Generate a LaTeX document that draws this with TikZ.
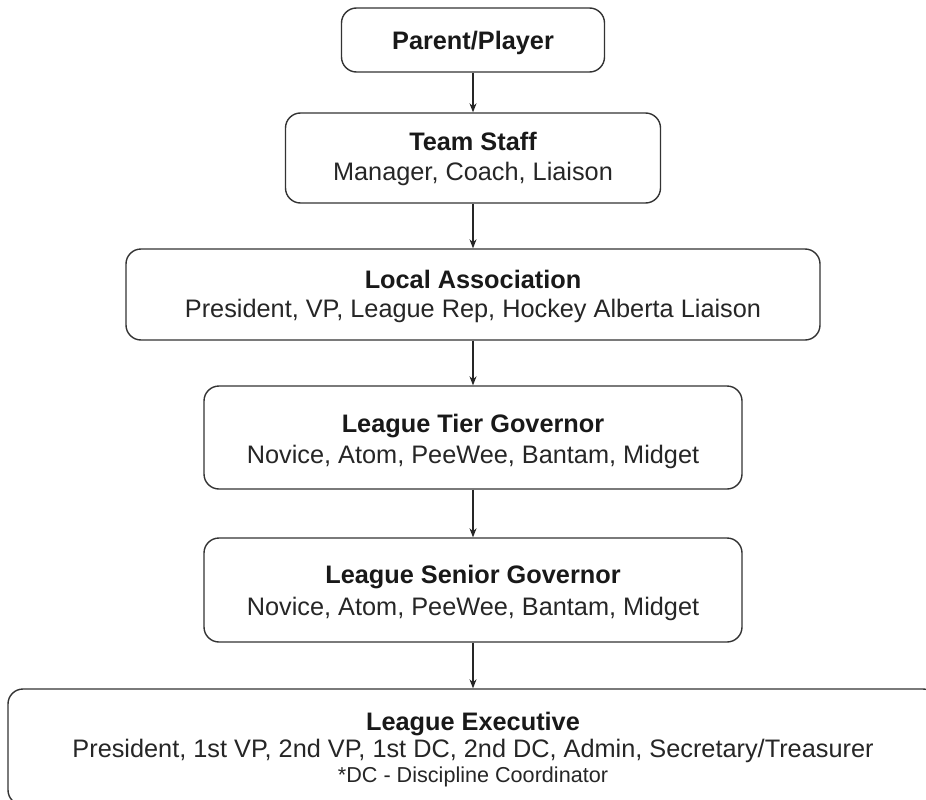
\documentclass[tikz,border=0pt]{standalone}
\usepackage{fontspec}
\setmainfont{Liberation Sans}
\usetikzlibrary{arrows.meta}
\tikzset{
  box/.style={draw=black!80, line width=1.4pt, rounded corners=15pt, fill=white, inner sep=0pt},
  arr/.style={draw=black!85, line width=1.1pt, -{Stealth[length=9pt,width=7pt]}},
  ttl/.style={anchor=base, inner sep=0pt, text=black!90, font=\fontsize{25.3}{30}\selectfont\bfseries},
  sub/.style={anchor=base, inner sep=0pt, text=black!85, font=\fontsize{25.3}{30}\selectfont},
  note/.style={anchor=base, inner sep=0pt, text=black!85, font=\fontsize{21.6}{26}\selectfont}
}
\begin{document}
\begin{tikzpicture}[x=1pt,y=-1pt]
\useasboundingbox (0,0) rectangle (926,800);
\clip (0,0) rectangle (926,800);
\fill[white] (0,0) rectangle (926,800);
% boxes
\node[box, minimum width=263pt, minimum height=64pt] (b1) at (473,40) {};
\node[box, minimum width=375pt, minimum height=90pt] (b2) at (473,158) {};
\node[box, minimum width=694pt, minimum height=91pt] (b3) at (473,294.5) {};
\node[box, minimum width=538pt, minimum height=103pt] (b4) at (473,437.5) {};
\node[box, minimum width=538pt, minimum height=104pt] (b5) at (473,590) {};
\node[box, minimum width=930pt, minimum height=116pt] (b6) at (473,747) {};
% texts
\node[ttl] (t1) at (473,50) {Parent/Player};
\node[ttl] (t2a) at (473,150) {Team Staff};
\node[sub] (t2b) at (473,180) {Manager, Coach, Liaison};
\node[ttl] (t3a) at (473,288) {Local Association};
\node[sub] (t3b) at (473,317) {President, VP, League Rep, Hockey Alberta Liaison};
\node[ttl] (t4a) at (473,432) {League Tier Governor};
\node[sub] (t4b) at (473,463) {Novice, Atom, PeeWee, Bantam, Midget};
\node[ttl] (t5a) at (473,583) {League Senior Governor};
\node[sub] (t5b) at (473,615) {Novice, Atom, PeeWee, Bantam, Midget};
\node[ttl] (t6a) at (473,730) {League Executive};
\node[sub] (t6b) at (473,757) {President, 1st VP, 2nd VP, 1st DC, 2nd DC, Admin, Secretary/Treasurer};
\node[note] (t6c) at (473,782) {*DC - Discipline Coordinator};
% connectors
\draw[arr] (b1.south) -- (b2.north);
\draw[arr] (b2.south) -- (b3.north);
\draw[arr] (b3.south) -- (b4.north);
\draw[arr] (b4.south) -- (b5.north);
\draw[arr] (b5.south) -- (b6.north);
\end{tikzpicture}
\end{document}
